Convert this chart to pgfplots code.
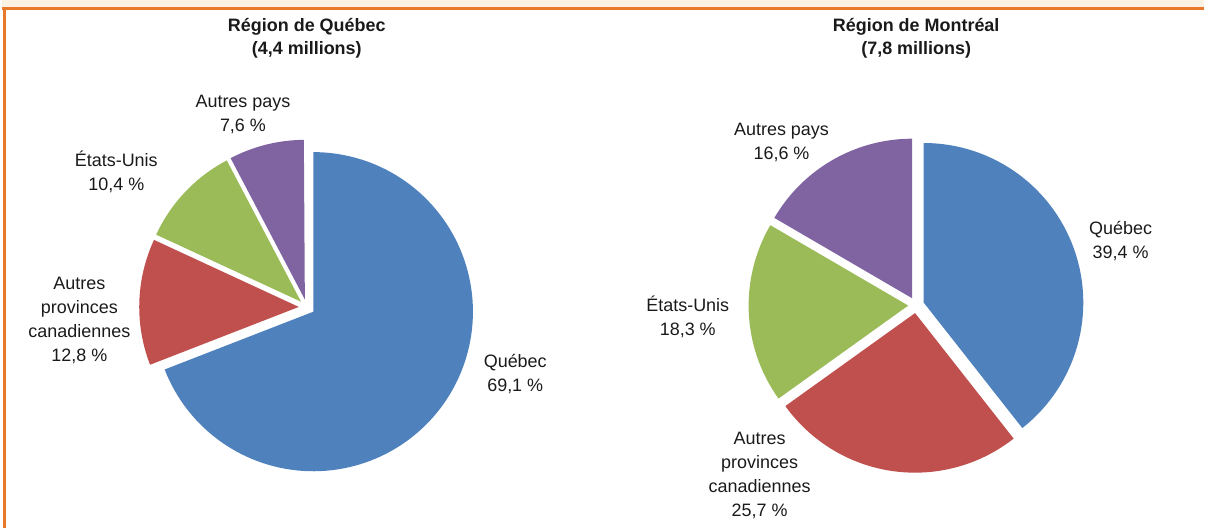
\documentclass[border=0pt]{standalone}
\usepackage{pgfplots}
\pgfplotsset{compat=1.18}
\usepackage{fontspec}
\setmainfont{Liberation Sans}
\definecolor{qblue}{HTML}{4F81BD}
\definecolor{qred}{HTML}{C0504D}
\definecolor{qgreen}{HTML}{9BBB59}
\definecolor{qpurple}{HTML}{8064A2}
\definecolor{frameor}{HTML}{E8792A}
\definecolor{framebg}{HTML}{FDF2E1}
\definecolor{txt}{HTML}{1A1A1A}
\def\R{160}
% \pieslice{cx}{cy}{percent}{colour}{explode}  (slices run clockwise from 12 o'clock)
\newcommand{\piestart}{\xdef\cum{0}}
\newcommand{\pieslice}[5]{%
  \pgfmathsetmacro{\aOne}{90-3.6*\cum}%
  \pgfmathsetmacro{\aTwo}{90-3.6*(\cum+#3)}%
  \pgfmathsetmacro{\aMid}{(\aOne+\aTwo)/2}%
  \pgfmathsetmacro{\ox}{#1+#5*cos(\aMid)}%
  \pgfmathsetmacro{\oy}{#2+#5*sin(\aMid)}%
  \pgfmathsetmacro{\newcum}{\cum+#3}%
  \xdef\cum{\newcum}%
  \edef\doslice{\noexpand\addplot[fill=#4, draw=none, domain=\aTwo:\aOne, samples=120]
    ({\ox+\R*cos(x)},{\oy+\R*sin(x)}) -- (axis cs:\ox,\oy) -- cycle;}%
  \doslice
}
\begin{document}
\begin{tikzpicture}[
  lbl/.style={font=\fontsize{9}{12}\selectfont, text=txt, align=center, inner sep=0pt},
  ttl/.style={font=\fontsize{9}{11.5}\selectfont\bfseries, text=txt, align=center, inner sep=0pt},
]
\begin{axis}[
  width=603pt, height=264.5pt, scale only axis,
  xmin=0, xmax=1206, ymin=0, ymax=529,
  hide axis, clip=false,
]
% frame
\fill[framebg] (axis cs:0,520) rectangle (axis cs:1206,529);
\draw[frameor, line width=1.6pt] (axis cs:0,520.5) -- (axis cs:1206,520.5);
\draw[frameor, line width=1.6pt] (axis cs:3,521) -- (axis cs:3,0);

% Région de Québec: Québec, Autres provinces, États-Unis, Autres pays
\piestart
\pieslice{306}{221}{69.1}{qblue}{8}
\pieslice{306}{221}{12.8}{qred}{8}
\pieslice{306}{221}{10.4}{qgreen}{8}
\pieslice{306}{221}{7.6}{qpurple}{8}

% Région de Montréal
\piestart
\pieslice{917}{223}{39.4}{qblue}{8}
\pieslice{917}{223}{25.7}{qred}{8}
\pieslice{917}{223}{18.3}{qgreen}{8}
\pieslice{917}{223}{16.6}{qpurple}{8}

% titles
\node[ttl] at (axis cs:306,490.5) {Région de Québec\\(4,4 millions)};
\node[ttl] at (axis cs:917,490.5) {Région de Montréal\\(7,8 millions)};

% labels left
\node[lbl] at (axis cs:242,414) {Autres pays\\7,6 \%};
\node[lbl] at (axis cs:115,357) {États-Unis\\10,4 \%};
\node[lbl] at (axis cs:78,207.5) {Autres\\provinces\\canadiennes\\12,8 \%};
\node[lbl] at (axis cs:515,154) {Québec\\69,1 \%};

% labels right
\node[lbl] at (axis cs:782,386.5) {Autres pays\\16,6 \%};
\node[lbl] at (axis cs:1122,287) {Québec\\39,4 \%};
\node[lbl] at (axis cs:688,211) {États-Unis\\18,3 \%};
\node[lbl] at (axis cs:760,52) {Autres\\provinces\\canadiennes\\25,7 \%};
\end{axis}
\end{tikzpicture}
\end{document}
